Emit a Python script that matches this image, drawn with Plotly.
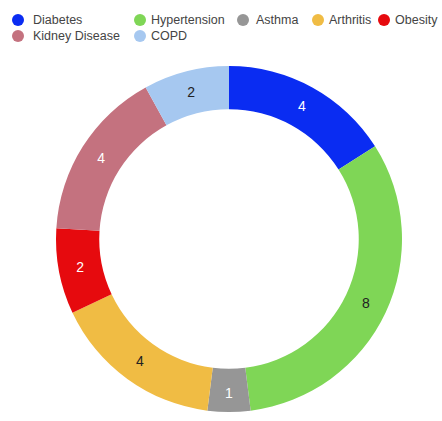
import plotly.graph_objects as go

labels = ["Diabetes", "Hypertension", "Asthma", "Arthritis", "Obesity", "Kidney Disease", "COPD"]
values = [4, 8, 1, 4, 2, 4, 2]
colors = ["#0a2cf2", "#7fd656", "#969696", "#f0bc44", "#e60a0e", "#c4727f", "#a6c8f0"]
text_colors = ["#ffffff", "#222222", "#ffffff", "#222222", "#ffffff", "#ffffff", "#222222"]

# legend layout (pixels from top-left) - layout only
legend_marker_px = [18, 140, 243, 318, 384, 18, 140]
legend_text_px = [31, 149, 254, 327, 393, 31, 149]
legend_py = [20, 20, 20, 20, 20, 36, 36]

W, H = 442, 421
ML, MR, MT, MB = 16, 0, 66, 9
PW, PH = W - ML - MR, H - MT - MB


def px_to_paper_x(px):
    return (px - ML) / PW


def py_to_paper_y(py):
    return 1 - (py - MT) / PH


fig = go.Figure()
fig.add_trace(go.Pie(
    labels=labels, values=values, hole=0.75, sort=False, direction="clockwise",
    rotation=0, marker=dict(colors=colors, line=dict(width=0)),
    textinfo="value", textposition="inside", insidetextorientation="horizontal",
    textfont=dict(color=text_colors, size=14, family="Liberation Sans"),
    showlegend=False, hoverinfo="label+value",
))

shapes = []
annotations = []
r = 6
for lab, col, mx, tx, py in zip(labels, colors, legend_marker_px, legend_text_px, legend_py):
    shapes.append(dict(
        type="circle", xref="paper", yref="paper",
        x0=px_to_paper_x(mx - r), x1=px_to_paper_x(mx + r),
        y0=py_to_paper_y(py + r), y1=py_to_paper_y(py - r),
        fillcolor=col, line=dict(width=0),
    ))
    annotations.append(dict(
        text=lab, xref="paper", yref="paper",
        x=px_to_paper_x(tx), y=py_to_paper_y(py),
        xanchor="left", yanchor="middle", showarrow=False,
        font=dict(family="Liberation Sans", size=12.5, color="#444444"),
    ))

fig.update_layout(
    width=W, height=H,
    margin=dict(l=ML, r=MR, t=MT, b=MB),
    paper_bgcolor="white", plot_bgcolor="white",
    showlegend=False,
    shapes=shapes, annotations=annotations,
)

fig.write_html("out.html")
